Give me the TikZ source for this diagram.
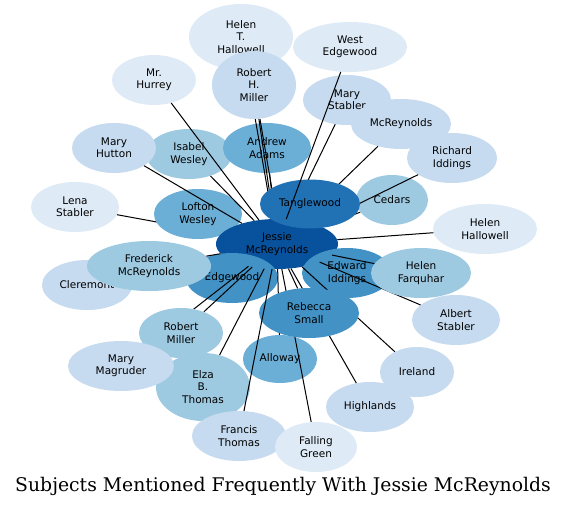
\documentclass[tikz,border=0pt]{standalone}
\usepackage{fontspec}
\setmainfont{DejaVu Sans}
\newfontfamily\titlefont{DejaVu Serif}
\usetikzlibrary{shapes.geometric}
\definecolor{bA}{HTML}{DEEBF7}
\definecolor{bB}{HTML}{C6DBEF}
\definecolor{bC}{HTML}{9ECAE1}
\definecolor{bD}{HTML}{6BAED6}
\definecolor{bE}{HTML}{4292C6}
\definecolor{bF}{HTML}{2171B5}
\definecolor{bG}{HTML}{08519C}
\pgfdeclarelayer{L1}
\pgfdeclarelayer{L2}
\pgfdeclarelayer{L3}
\pgfdeclarelayer{L4}
\pgfdeclarelayer{L5}
\pgfsetlayers{main,L1,L2,L3,L4,L5}
\tikzset{
  subj/.style={ellipse, inner sep=0pt, draw=none, align=center, text=black,
    font=\fontsize{10.5pt}{12.3pt}\selectfont},
  sz/.style 2 args={minimum width=#1pt, minimum height=#2pt},
  conn/.style={draw=black, line width=1pt},
  ttl/.style={font=\titlefont\fontsize{18.8pt}{22pt}\selectfont, inner sep=0pt}
}
\begin{document}
\begin{tikzpicture}[x=1pt,y=-1pt]
\useasboundingbox[fill=white] (0,0) rectangle (568,507);
% ---------- layer 1 nodes
\begin{pgfonlayer}{L1}
\node[subj, fill=bA, sz={104}{66}] (hth) at (241,37) {Helen\\T.\\Hallowell};
\node[subj, fill=bA, sz={114}{50}] (we) at (350,47) {West\\Edgewood};
\node[subj, fill=bA, sz={84}{50}] (mrh) at (154,80) {Mr.\\Hurrey};
\node[subj, fill=bC, sz={86}{50}] (isw) at (189,154) {Isabel\\Wesley};
\node[subj, fill=bB, sz={84}{50}] (mhu) at (114,148) {Mary\\Hutton};
\node[subj, fill=bD, sz={88}{50}] (aa) at (267,148) {Andrew\\Adams};
\node[subj, fill=bA, sz={88}{50}] (lena) at (75,207) {Lena\\Stabler};
\end{pgfonlayer}
% ---------- layer 2 nodes
\begin{pgfonlayer}{L2}
\node[subj, fill=bB, sz={84}{68}] (rhm) at (254,85) {Robert\\H.\\Miller};
\node[subj, fill=bB, sz={88}{50}] (ms) at (347,100) {Mary\\Stabler};
\node[subj, fill=bB, sz={100}{50}] (mcr) at (401,124) {McReynolds};
\node[subj, fill=bC, sz={72}{50}] (ced) at (392,200) {Cedars};
\node[subj, fill=bB, sz={90}{50}] (ri) at (452,158) {Richard\\Iddings};
\node[subj, fill=bD, sz={88}{50}] (lofton) at (198,214) {Lofton\\Wesley};
\node[subj, fill=bG, sz={122}{50}] (j) at (277,244) {Jessie\\McReynolds};
\end{pgfonlayer}
% ---------- layer 3 nodes
\begin{pgfonlayer}{L3}
\node[subj, fill=bF, sz={100}{49}] (tang) at (310,204) {Tanglewood};
\node[subj, fill=bA, sz={104}{50}] (hh) at (485,229) {Helen\\Hallowell};
\node[subj, fill=bB, sz={90}{50}] (cler) at (87,285) {Cleremont};
\node[subj, fill=bE, sz={92}{50}] (edg) at (232,278) {Edgewood};
\node[subj, fill=bC, sz={124}{50}] (fred) at (149,266) {Frederick\\McReynolds};
\node[subj, fill=bE, sz={90}{50}] (ei) at (347,273) {Edward\\Iddings};
\node[subj, fill=bB, sz={88}{50}] (albs) at (456,320) {Albert\\Stabler};
\end{pgfonlayer}
% ---------- layer 4 nodes
\begin{pgfonlayer}{L4}
\node[subj, fill=bC, sz={100}{50}] (hf) at (421,273) {Helen\\Farquhar};
\node[subj, fill=bB, sz={74}{50}] (ire) at (417,372) {Ireland};
\node[subj, fill=bB, sz={88}{50}] (high) at (370,407) {Highlands};
\node[subj, fill=bD, sz={74}{48}] (allo) at (280,359) {Alloway};
\end{pgfonlayer}
% ---------- layer 5 nodes
\begin{pgfonlayer}{L5}
\node[subj, fill=bE, sz={100}{50}] (reb) at (309,313) {Rebecca\\Small};
\node[subj, fill=bC, sz={94}{68}] (elza) at (203,387) {Elza\\B.\\Thomas};
\node[subj, fill=bC, sz={84}{50}] (rm) at (181,333) {Robert\\Miller};
\node[subj, fill=bB, sz={106}{50}] (mm) at (121,366) {Mary\\Magruder};
\node[subj, fill=bB, sz={94}{50}] (ft) at (239,436) {Francis\\Thomas};
\node[subj, fill=bA, sz={82}{50}] (fg) at (316,447) {Falling\\Green};
\end{pgfonlayer}
% ---------- connectors
\begin{pgfonlayer}{L1}
\draw[conn] (hth) -- (j);
\draw[conn] (lena) -- (j);
\draw[conn] (lofton) -- (j);
\draw[conn] (aa) -- (j);
\draw[conn] (cler) -- (j);
\draw[conn] (tang) -- (j);
\draw[conn] (edg) -- (j);
\draw[conn] (ei) -- (j);
\end{pgfonlayer}
\begin{pgfonlayer}{L2}
\draw[conn] (rhm) -- (j);
\draw[conn] ([xshift=6pt]rhm.south) -- (j.north);
\draw[conn] (mrh) -- (j);
\draw[conn] (mhu) -- (j);
\draw[conn] (isw) -- (j);
\draw[conn] (ms) -- (j);
\draw[conn] (mcr) -- (j);
\draw[conn] (ri) -- (j);
\draw[conn] (ced) -- (j);
\end{pgfonlayer}
\begin{pgfonlayer}{L3}
\draw[conn] (we) -- (j);
\draw[conn] (hh) -- (j);
\draw[conn] (fred) -- (j);
\draw[conn] (albs) -- (j);
\draw[conn] (rm) -- (j);
\draw[conn] (mm) -- (j);
\draw[conn] (elza) -- (j);
\end{pgfonlayer}
\begin{pgfonlayer}{L4}
\draw[conn] (hf) -- (j);
\draw[conn] (ire) -- (j);
\draw[conn] (high) -- (j);
\draw[conn] (fg) -- (j);
\draw[conn] (allo) -- (j);
\draw[conn] (reb) -- (j);
\end{pgfonlayer}
\begin{pgfonlayer}{L5}
\draw[conn] (ft) -- (j);
\end{pgfonlayer}
% ---------- title
\node[ttl] (title) at (283,486) {Subjects Mentioned Frequently With Jessie McReynolds};
\end{tikzpicture}
\end{document}
